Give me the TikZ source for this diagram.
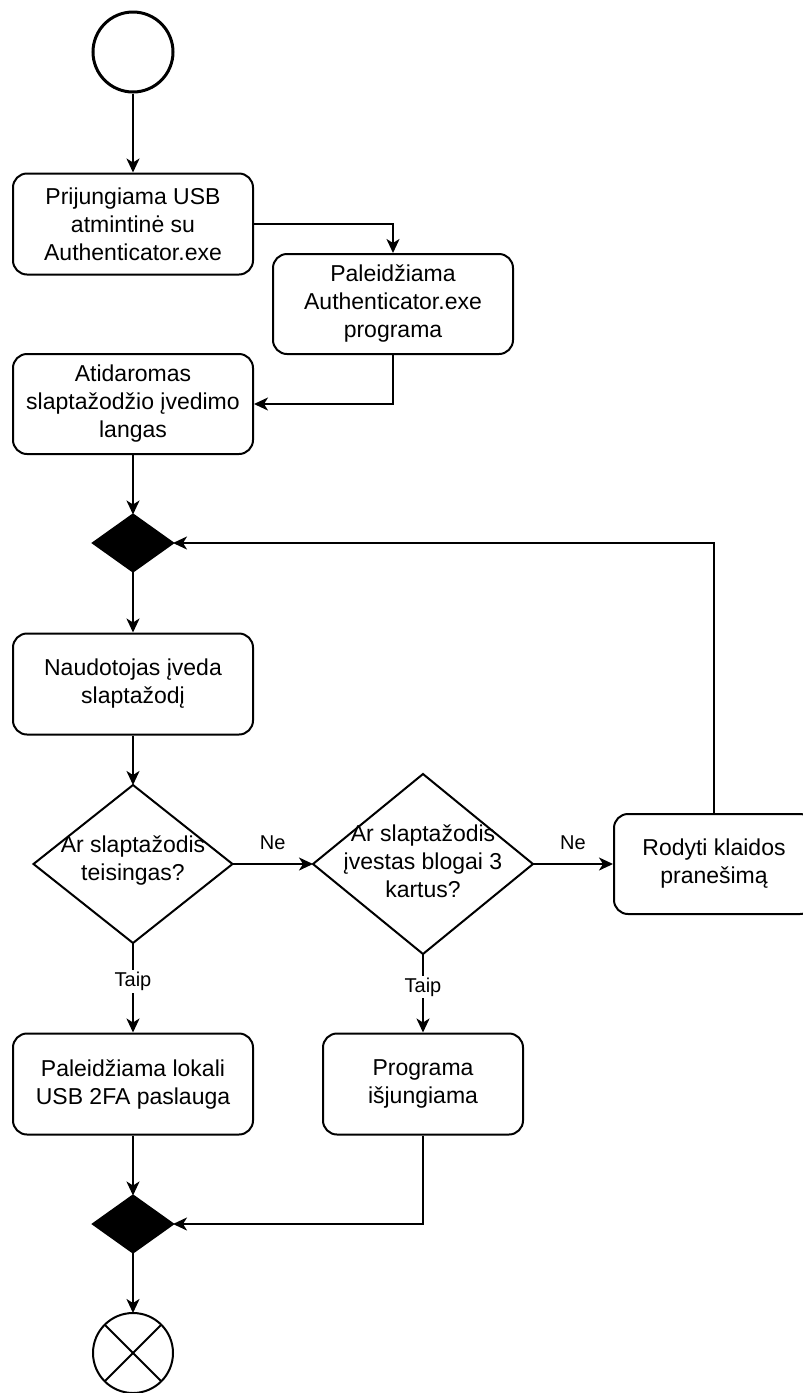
\documentclass[tikz,border=0pt]{standalone}
\usepackage{fontspec}
\setmainfont{Liberation Sans}
\usetikzlibrary{arrows.meta,shapes.geometric}
\begin{document}
\begin{tikzpicture}[x=1pt,y=-1pt,
  every node/.style={font=\fontsize{23}{28}\selectfont, text=black},
  actbox/.style={draw, line width=2pt, rounded corners=14pt, minimum width=240pt,
    minimum height=101pt, align=center, inner sep=0pt},
  narrowbox/.style={actbox, minimum width=200pt},
  decision/.style={diamond, draw, line width=2pt, inner sep=0pt, outer sep=0pt},
  bar/.style={diamond, draw, fill=black, line width=2pt, inner sep=0pt, outer sep=0pt,
    minimum width=80pt, minimum height=57pt},
  qtext/.style={align=center, inner sep=0pt},
  flow/.style={line width=2pt, -{Stealth[length=14pt,width=13pt,inset=4pt]}},
  lbl/.style={font=\fontsize{20}{24}\selectfont, fill=white, inner sep=2pt},
  nolbl/.style={font=\fontsize{20}{24}\selectfont, midway, yshift=21pt},
]
\useasboundingbox (0,0) rectangle (803,1393);
\clip (0,0) rectangle (803,1393);

% start and end states
\node[circle, draw, line width=3pt, minimum size=80pt, inner sep=0pt] (start) at (133,52) {};
\node[circle, draw, line width=2pt, minimum size=80pt, inner sep=0pt, outer sep=0pt] (stop) at (133,1353) {};
\draw[line width=2pt] (stop.north west) -- (stop.south east);
\draw[line width=2pt] (stop.north east) -- (stop.south west);

% activities
\node[actbox] (plug) at (133,224) {Prijungiama USB\\atmintinė su\\Authenticator.exe};
\node[actbox, minimum height=100pt] (launch) at (393,304) {Paleidžiama\\Authenticator.exe\\programa};
\node[actbox, minimum height=100pt] (window) at (133,404) {Atidaromas\\slaptažodžio įvedimo\\langas};
\node[bar] (merge) at (133,543) {};
\node[actbox] (enter) at (133,684) {Naudotojas įveda\\slaptažodį};

% decisions
\node[decision, minimum width=199pt, minimum height=158pt] (check) at (133,864) {};
\node[qtext] (checkt) at (133,861) {Ar slaptažodis\\teisingas?};
\node[decision, minimum width=220pt, minimum height=180pt] (tries) at (423,864) {};
\node[qtext] (triest) at (423,861) {Ar slaptažodis\\įvestas blogai 3\\kartus?};

\node[narrowbox, minimum height=100pt] (error) at (714,864) {Rodyti klaidos\\pranešimą};
\node[actbox] (service) at (133,1084) {Paleidžiama lokali\\USB 2FA paslauga};
\node[narrowbox] (quit) at (423,1084) {Programa\\išjungiama};
\node[bar] (join) at (133,1224) {};

% flow
\draw[flow] (start) -- (plug);
\draw[flow] (plug.east) -| (launch.north);
\draw[flow] (launch.south) |- (window.east);
\draw[flow] (window) -- (merge);
\draw[flow] (merge) -- (enter);
\draw[flow] (enter) -- (check.north);
\draw[flow] (check.east) -- node[nolbl] (ne1) {Ne} (tries.west);
\draw[flow] (tries.east) -- node[nolbl] (ne2) {Ne} (error.west);
\draw[flow] (error.north) |- (merge.east);
\draw[flow] (check.south) -- node[lbl, pos=0.43] (yes1) {Taip} (service.north);
\draw[flow] (tries.south) -- node[lbl, pos=0.42] (yes2) {Taip} (quit.north);
\draw[flow] (service) -- (join);
\draw[flow] (quit.south) |- (join.east);
\draw[flow] (join) -- (stop);
\end{tikzpicture}
\end{document}
